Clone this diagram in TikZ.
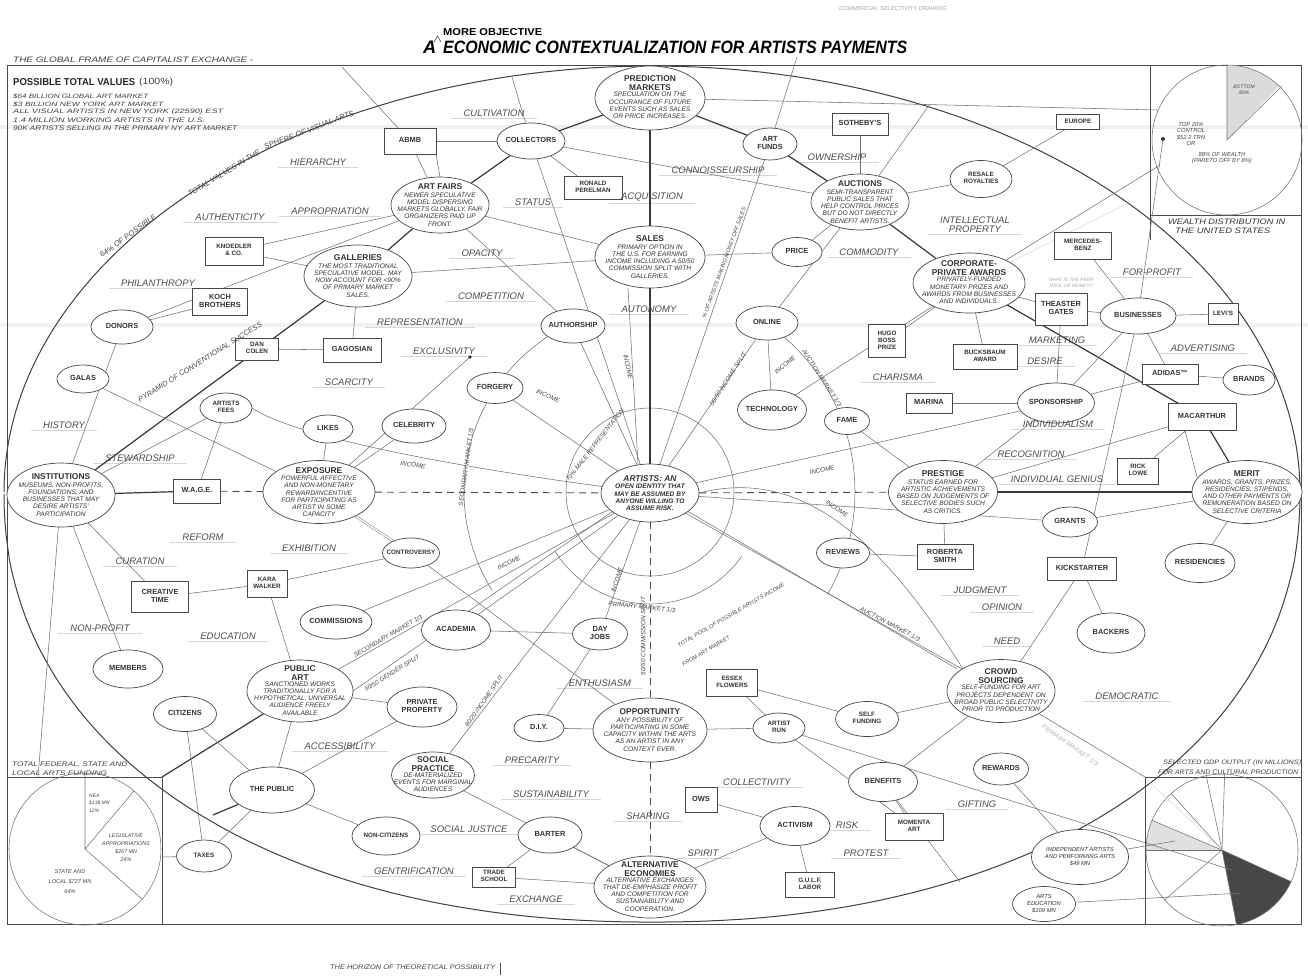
\documentclass[tikz,border=0pt]{standalone}
\usepackage{fontspec}
\setmainfont{Liberation Sans}
\usetikzlibrary{shapes.geometric}
\pgfdeclarelayer{bg}
\pgfsetlayers{bg,main}
\newcommand{\ttlf}{\fontsize{8.4}{9}\selectfont\bfseries}
\newcommand{\dscf}{\fontsize{6.6}{7.2}\selectfont\itshape}
\newcommand{\ndf}{\fontsize{7.4}{8.3}\selectfont\bfseries}
\newcommand{\lbf}{\fontsize{9.5}{10}\selectfont\itshape}
\newcommand{\smf}{\fontsize{6.3}{7}\selectfont\itshape}
\newcommand{\ctrbox}[1]{\makebox[0pt]{\raisebox{\dimexpr(\depth-\height)/2\relax}[0pt][0pt]{#1}}}
\newcommand{\nt}[1]{\ctrbox{\ndf\begin{tabular}{@{}c@{}}#1\end{tabular}}}
\newcommand{\ntsm}[1]{\ctrbox{\fontsize{6.3}{7.1}\selectfont\bfseries\begin{tabular}{@{}c@{}}#1\end{tabular}}}
\newcommand{\et}[2]{\ctrbox{\begin{tabular}{@{}c@{}}{\ttlf\begin{tabular}{@{}c@{}}#1\end{tabular}}\\[-1.5pt]{\dscf\begin{tabular}{@{}c@{}}#2\end{tabular}}\end{tabular}}}
\begin{document}
\begin{tikzpicture}[x=1pt,y=-1pt,line cap=round,line join=round,
 el/.style 2 args={ellipse, draw=black!72, fill=white, line width=0.7pt, minimum width=#1, minimum height=#2, inner sep=0pt, outer sep=0pt, text=black!80},
 bx/.style 2 args={rectangle, draw=black!72, fill=white, line width=0.7pt, minimum width=#1, minimum height=#2, inner sep=0pt, outer sep=0pt, text=black!80},
 lab/.style={font=\lbf, text=black!70, inner sep=0pt},
 sml/.style={font=\smf, text=black!72, inner sep=0pt},
 tiny/.style={font=\fontsize{5.8}{6.6}\selectfont\itshape, text=black!72, inner sep=0pt},
 ln/.style={draw=black!55, line width=0.55pt},
 tk/.style={draw=black!78, line width=1.2pt},
 fn/.style={draw=black!16, line width=0.45pt},
 dsh/.style={draw=black!70, line width=0.9pt, dash pattern=on 7pt off 5pt},
 frm/.style={draw=black!70, line width=0.9pt}]
\useasboundingbox (0,0) rectangle (1308,978);

% ---------------- titles and headers
\node[inner sep=0, anchor=west] (tA) at (423,47) {\resizebox{!}{12.5pt}{\bfseries\itshape A}};
\node[inner sep=0, anchor=west] (tmain) at (443,47) {\resizebox{464pt}{12.5pt}{\bfseries\itshape ECONOMIC CONTEXTUALIZATION FOR ARTISTS PAYMENTS}};
\node[inner sep=0, anchor=west] (tmore) at (443,32) {\resizebox{99pt}{7pt}{\bfseries MORE OBJECTIVE}};
\node[tiny, text=black!35] (topnote) at (893,8) {COMMERCIAL SELECTIVITY DRAWING};
\node[inner sep=0, anchor=west, text=black!75] (gframe) at (13,60) {\resizebox{240pt}{5.5pt}{\itshape THE GLOBAL FRAME OF CAPITALIST EXCHANGE -}};
\node[inner sep=0, anchor=west, text=black!85] (ptv) at (13,82) {\resizebox{122pt}{7pt}{\bfseries POSSIBLE TOTAL VALUES}};
\node[inner sep=0, anchor=west, text=black!75] (ptvb) at (139,82) {\resizebox{34pt}{6.5pt}{(100\%)}};
\node[inner sep=0, anchor=west, text=black!75] (v1) at (13,96) {\resizebox{135pt}{4.6pt}{\itshape \$64 BILLION GLOBAL ART MARKET}};
\node[inner sep=0, anchor=west, text=black!75] (v2) at (13,104) {\resizebox{150pt}{4.6pt}{\itshape \$3 BILLION NEW YORK ART MARKET}};
\node[inner sep=0, anchor=west, text=black!75] (v3) at (13,112) {\resizebox{210pt}{4.6pt}{\itshape ALL VISUAL ARTISTS IN NEW YORK (22590) EST}};
\node[inner sep=0, anchor=west, text=black!75] (v4) at (13,120) {\resizebox{192pt}{4.6pt}{\itshape 1.4 MILLION WORKING ARTISTS IN THE U.S.}};
\node[inner sep=0, anchor=west, text=black!75] (v5) at (13,128) {\resizebox{224pt}{4.6pt}{\itshape 90K ARTISTS SELLING IN THE PRIMARY NY ART MARKET}};
\node[inner sep=0, anchor=west, text=black!75] (hor) at (330,967) {\resizebox{165pt}{4.6pt}{\itshape THE HORIZON OF THEORETICAL POSSIBILITY}};
\node[inner sep=0, anchor=west, text=black!75] (tff1) at (12,765) {\resizebox{115pt}{4.6pt}{\itshape TOTAL FEDERAL, STATE AND}};
\node[inner sep=0, anchor=west, text=black!75] (tff2) at (12,773) {\resizebox{95pt}{4.6pt}{\itshape LOCAL ARTS FUNDING}};
\node[inner sep=0, anchor=west, text=black!75] (gdp1) at (1163,763) {\resizebox{138pt}{4.6pt}{\itshape SELECTED GDP OUTPUT (IN MILLIONS)}};
\node[inner sep=0, anchor=west, text=black!75] (gdp2) at (1158,772) {\resizebox{140pt}{4.6pt}{\itshape FOR ARTS AND CULTURAL PRODUCTION}};
\node[inner sep=0, anchor=west, text=black!80] (wd1) at (1168,222) {\resizebox{117pt}{5.5pt}{\itshape WEALTH DISTRIBUTION IN}};
\node[inner sep=0, anchor=west, text=black!80] (wd2) at (1175,231) {\resizebox{95pt}{5.5pt}{\itshape THE UNITED STATES}};
\node[tiny, text=black!35, align=center, font=\fontsize{4.8}{6}\selectfont\itshape] (peer) at (1071,283) {WHAT IS THE PEER\\POOL OF MONEY?};

% ---------------- ellipse nodes
\node[el={110}{64}] (pred) at (650,98) {\et{PREDICTION\\MARKETS}{SPECULATION ON THE\\OCCURANCE OF FUTURE\\EVENTS SUCH AS SALES\\OR PRICE INCREASES.}};
\node[el={68}{36}] (coll) at (531,141) {\nt{COLLECTORS}};
\node[el={54}{32}] (fund) at (770,144) {\nt{ART\\FUNDS}};
\node[el={62}{37}] (resale) at (981,179) {\ntsm{RESALE\\ROYALTIES}};
\node[el={98}{56}] (auct) at (860,202) {\et{AUCTIONS}{SEMI-TRANSPARENT\\PUBLIC SALES THAT\\HELP CONTROL PRICES\\BUT DO NOT DIRECTLY\\BENEFIT ARTISTS.}};
\node[el={98}{56}] (fairs) at (440,205) {\et{ART FAIRS}{NEWER SPECULATIVE\\MODEL DISPERSING\\MARKETS GLOBALLY. FAIR\\ORGANIZERS PAID UP\\FRONT.}};
\node[el={110}{62}] (sales) at (650,257) {\et{SALES}{PRIMARY OPTION IN\\THE U.S. FOR EARNING\\INCOME INCLUDING A 50/50\\COMMISSION SPLIT WITH\\GALLERIES.}};
\node[el={108}{62}] (gall) at (358,276) {\et{GALLERIES}{THE MOST TRADITIONAL\\SPECULATIVE MODEL. MAY\\NOW ACCOUNT FOR <90\%\\OF PRIMARY MARKET\\SALES.}};
\node[el={50}{29}] (price) at (797,252) {\nt{PRICE}};
\node[el={112}{60}] (corp) at (969,283) {\et{CORPORATE-\\PRIVATE AWARDS}{PRIVATELY-FUNDED\\MONETARY PRIZES AND\\AWARDS FROM BUSINESSES\\AND INDIVIDUALS.}};
\node[el={62}{34}] (donors) at (122,327) {\nt{DONORS}};
\node[el={64}{34}] (auth) at (573,326) {\nt{AUTHORSHIP}};
\node[el={62}{34}] (online) at (767,323) {\nt{ONLINE}};
\node[el={76}{36}] (busi) at (1138,316) {\nt{BUSINESSES}};
\node[el={52}{28}] (galas) at (83,379) {\nt{GALAS}};
\node[el={56}{31}] (forg) at (495,388) {\nt{FORGERY}};
\node[el={52}{30}] (brands) at (1249,380) {\nt{BRANDS}};
\node[el={52}{30}] (fees) at (226,408) {\ntsm{ARTISTS\\FEES}};
\node[el={50}{28}] (likes) at (328,429) {\nt{LIKES}};
\node[el={64}{34}] (celeb) at (414,426) {\nt{CELEBRITY}};
\node[el={69}{40}] (tech) at (772,410) {\nt{TECHNOLOGY}};
\node[el={45}{27}] (fame) at (847,421) {\nt{FAME}};
\node[el={77}{40}] (spons) at (1056,403) {\nt{SPONSORSHIP}};
\node[el={108}{64}] (inst) at (61,495) {\et{INSTITUTIONS}{MUSEUMS, NON-PROFITS,\\FOUNDATIONS, AND\\BUSINESSES THAT MAY\\DESIRE ARTISTS'\\PARTICIPATION}};
\node[el={112}{63}] (expo) at (319,492) {\et{EXPOSURE}{POWERFUL AFFECTIVE\\AND NON-MONETARY\\REWARD/INCENTIVE\\FOR PARTICIPATING AS\\ARTIST IN SOME\\CAPACITY}};
\node[el={98}{58}] (art) at (650,493) {\ctrbox{\begin{tabular}{@{}c@{}}{\ttlf\itshape ARTISTS: AN}\\[-1.5pt]{\fontsize{6.6}{7.3}\selectfont\bfseries\itshape\begin{tabular}{@{}c@{}}OPEN IDENTITY THAT\\MAY BE ASSUMED BY\\ANYONE WILLING TO\\ASSUME RISK.\end{tabular}}\end{tabular}}};
\node[el={109}{63}] (prest) at (943,492) {\et{PRESTIGE}{STATUS EARNED FOR\\ARTISTIC ACHIEVEMENTS\\BASED ON JUDGEMENTS OF\\SELECTIVE BODIES SUCH\\AS CRITICS.}};
\node[el={110}{63}] (merit) at (1247,492) {\et{MERIT}{AWARDS, GRANTS, PRIZES,\\RESIDENCIES, STIPENDS,\\AND OTHER PAYMENTS OR\\REMUNERATION BASED ON\\SELECTIVE CRITERIA}};
\node[el={55}{30}] (grants) at (1070,522) {\nt{GRANTS}};
\node[el={57}{30}] (contr) at (411,553) {\ntsm{CONTROVERSY}};
\node[el={53}{30}] (rev) at (843,553) {\nt{REVIEWS}};
\node[el={70}{39}] (resid) at (1200,563) {\nt{RESIDENCIES}};
\node[el={72}{34}] (comm) at (336,622) {\nt{COMMISSIONS}};
\node[el={69}{40}] (acad) at (456,630) {\nt{ACADEMIA}};
\node[el={55}{32}] (dayj) at (600,634) {\nt{DAY\\JOBS}};
\node[el={68}{40}] (back) at (1111,633) {\nt{BACKERS}};
\node[el={70}{38}] (memb) at (128,669) {\nt{MEMBERS}};
\node[el={106}{62}] (pubart) at (300,691) {\et{PUBLIC\\ART}{SANCTIONED WORKS\\TRADITIONALLY FOR A\\HYPOTHETICAL, UNIVERSAL\\AUDIENCE FREELY\\AVAILABLE}};
\node[el={70}{40}] (priv) at (422,707) {\nt{PRIVATE\\PROPERTY}};
\node[el={108}{63}] (crowd) at (1001,691) {\et{CROWD\\SOURCING}{SELF-FUNDING FOR ART\\PROJECTS DEPENDENT ON\\BROAD PUBLIC SELECTIVITY\\PRIOR TO PRODUCTION}};
\node[el={63}{35}] (cit) at (185,714) {\nt{CITIZENS}};
\node[el={50}{27}] (diy) at (539,728) {\nt{D.I.Y.}};
\node[el={114}{64}] (opp) at (650,730) {\et{OPPORTUNITY}{ANY POSSIBILITY OF\\PARTICIPATING IN SOME\\CAPACITY WITHIN THE ARTS\\AS AN ARTIST IN ANY\\CONTEXT EVER.}};
\node[el={52}{30}] (arun) at (779,728) {\ntsm{ARTIST\\RUN}};
\node[el={63}{35}] (selff) at (867,719) {\ntsm{SELF\\FUNDING}};
\node[el={83}{46}] (social) at (433,775) {\et{SOCIAL\\PRACTICE}{DE-MATERIALIZED\\EVENTS FOR MARGINAL\\AUDIENCES}};
\node[el={85}{46}] (public) at (272,790) {\nt{THE PUBLIC}};
\node[el={69}{39}] (benef) at (883,782) {\nt{BENEFITS}};
\node[el={55}{32}] (rew) at (1001,769) {\nt{REWARDS}};
\node[el={70}{39}] (activ) at (795,826) {\nt{ACTIVISM}};
\node[el={68}{38}] (noncit) at (386,836) {\ntsm{NON-CITIZENS}};
\node[el={64}{36}] (barter) at (550,835) {\nt{BARTER}};
\node[el={55}{32}] (taxes) at (204,856) {\ntsm{TAXES}};
\node[el={112}{62}] (alt) at (650,887) {\et{ALTERNATIVE\\ECONOMIES}{ALTERNATIVE EXCHANGES\\THAT DE-EMPHASIZE PROFIT\\AND COMPETITION FOR\\SUSTAINABILITY AND\\COOPERATION.}};
\node[el={97}{55}] (indep) at (1080,857) {\ctrbox{\fontsize{5.8}{6.8}\selectfont\itshape\begin{tabular}{@{}c@{}}INDEPENDENT ARTISTS\\AND PERFORMING ARTS\\\$49 MN\end{tabular}}};
\node[el={63}{35}] (artsed) at (1044,904) {\ctrbox{\fontsize{5.8}{6.8}\selectfont\itshape\begin{tabular}{@{}c@{}}ARTS\\EDUCATION\\\$109 MN\end{tabular}}};

% ---------------- box nodes
\node[bx={52}{26}] (abmb) at (410,141) {\nt{ABMB}};
\node[bx={56}{22}] (sothe) at (860,124) {\nt{SOTHEBY'S}};
\node[bx={43}{15}] (europe) at (1078,122) {\ntsm{EUROPE}};
\node[bx={58}{23}] (perel) at (593,188) {\ntsm{RONALD\\PERELMAN}};
\node[bx={58}{28}] (knoed) at (234,251) {\ntsm{KNOEDLER\\\& CO.}};
\node[bx={57}{27}] (merc) at (1083,246) {\ntsm{MERCEDES-\\BENZ}};
\node[bx={55}{27}] (koch) at (220,302) {\nt{KOCH\\BROTHERS}};
\node[bx={52}{32}] (theas) at (1061,309) {\nt{THEASTER\\GATES}};
\node[bx={30}{21}] (levis) at (1223,314) {\ntsm{LEVI'S}};
\node[bx={43}{22}] (dan) at (257,349) {\ntsm{DAN\\COLEN}};
\node[bx={58}{24}] (gago) at (352,350) {\nt{GAGOSIAN}};
\node[bx={37}{33}] (hugo) at (887,341) {\ntsm{HUGO\\BOSS\\PRIZE}};
\node[bx={64}{25}] (buck) at (985,357) {\ntsm{BUCKSBAUM\\AWARD}};
\node[bx={56}{20}] (adidas) at (1170,374) {\nt{ADIDAS™}};
\node[bx={46}{20}] (marina) at (929,403) {\nt{MARINA}};
\node[bx={68}{27}] (macar) at (1202,417) {\nt{MACARTHUR}};
\node[bx={47}{24}] (wage) at (197,491) {\nt{W.A.G.E.}};
\node[bx={41}{26}] (rick) at (1138,471) {\ntsm{RICK\\LOWE}};
\node[bx={56}{25}] (roberta) at (945,557) {\nt{ROBERTA\\SMITH}};
\node[bx={69}{23}] (kick) at (1082,569) {\nt{KICKSTARTER}};
\node[bx={57}{31}] (creat) at (160,597) {\nt{CREATIVE\\TIME}};
\node[bx={40}{27}] (kara) at (267,584) {\ntsm{KARA\\WALKER}};
\node[bx={51}{27}] (essex) at (732,683) {\ntsm{ESSEX\\FLOWERS}};
\node[bx={32}{25}] (ows) at (701,800) {\nt{OWS}};
\node[bx={58}{27}] (momenta) at (914,827) {\ntsm{MOMENTA\\ART}};
\node[bx={43}{20}] (trade) at (494,877) {\ntsm{TRADE\\SCHOOL}};
\node[bx={49}{25}] (gulf) at (810,885) {\ntsm{G.U.L.F.\\LABOR}};

% ---------------- free labels
\node[lab] (l1) at (494,113) {CULTIVATION};
\node[lab] (l2) at (318,162) {HIERARCHY};
\node[lab] (l3) at (533,202) {STATUS};
\node[lab] (l4) at (652,197) {ACQUISITION};
\node[lab] (l5) at (718,170) {CONNOISSEURSHIP};
\node[lab] (l6) at (837,157) {OWNERSHIP};
\node[lab] (l7) at (230,217) {AUTHENTICITY};
\node[lab] (l8) at (330,211) {APPROPRIATION};
\node[lab] (l9) at (482,253) {OPACITY};
\node[lab] (l10) at (869,252) {COMMODITY};
\node[lab, align=center, font=\fontsize{9.5}{9}\selectfont\itshape] (l11) at (975,225) {INTELLECTUAL\\PROPERTY};
\node[lab] (l12) at (1152,272) {FOR-PROFIT};
\node[lab] (l13) at (158,283) {PHILANTHROPY};
\node[lab] (l14) at (491,296) {COMPETITION};
\node[lab] (l15) at (649,309) {AUTONOMY};
\node[lab] (l16) at (420,322) {REPRESENTATION};
\node[lab] (l17) at (1057,340) {MARKETING};
\node[lab] (l18) at (1203,348) {ADVERTISING};
\node[lab] (l19) at (444,351) {EXCLUSIVITY};
\node[lab] (l20) at (349,382) {SCARCITY};
\node[lab] (l21) at (898,377) {CHARISMA};
\node[lab] (l22) at (1045,361) {DESIRE};
\node[lab] (l23) at (64,425) {HISTORY};
\node[lab] (l24) at (1058,424) {INDIVIDUALISM};
\node[lab] (l25) at (140,458) {STEWARDSHIP};
\node[lab] (l26) at (1031,454) {RECOGNITION};
\node[lab] (l27) at (1057,479) {INDIVIDUAL GENIUS};
\node[lab] (l28) at (203,537) {REFORM};
\node[lab] (l29) at (309,548) {EXHIBITION};
\node[lab] (l30) at (140,561) {CURATION};
\node[lab] (l31) at (980,590) {JUDGMENT};
\node[lab] (l32) at (1002,607) {OPINION};
\node[lab] (l33) at (100,628) {NON-PROFIT};
\node[lab] (l34) at (228,636) {EDUCATION};
\node[lab] (l35) at (1007,641) {NEED};
\node[lab] (l36) at (600,683) {ENTHUSIASM};
\node[lab] (l37) at (1127,696) {DEMOCRATIC};
\node[lab] (l38) at (340,746) {ACCESSIBILITY};
\node[lab] (l39) at (532,760) {PRECARITY};
\node[lab] (l40) at (757,782) {COLLECTIVITY};
\node[lab] (l41) at (551,794) {SUSTAINABILITY};
\node[lab] (l42) at (977,804) {GIFTING};
\node[lab] (l43) at (648,816) {SHARING};
\node[lab] (l44) at (847,825) {RISK};
\node[lab] (l45) at (469,829) {SOCIAL JUSTICE};
\node[lab] (l46) at (703,853) {SPIRIT};
\node[lab] (l47) at (866,853) {PROTEST};
\node[lab] (l48) at (414,871) {GENTRIFICATION};
\node[lab] (l49) at (536,899) {EXCHANGE};

% ---------------- rotated small labels
\node[sml, rotate=32, font=\fontsize{7.4}{8}\selectfont\itshape] (pyr) at (200,362) {PYRAMID OF CONVENTIONAL SUCCESS};
\node[sml, rotate=36, font=\fontsize{7.6}{8}\selectfont\itshape] (sp1) at (128,236) {64\% OF POSSIBLE};
\node[sml, rotate=31, font=\fontsize{7.6}{8}\selectfont\itshape] (sp2) at (224,173) {TOTAL VALUES IN THE};
\node[sml, rotate=21, font=\fontsize{7.6}{8}\selectfont\itshape] (sp3) at (309,130) {SPHERE OF VISUAL ARTS};
\node[sml, rotate=-9] (i1) at (413,465) {INCOME};
\node[sml, rotate=-22] (i2) at (548,396) {INCOME};
\node[sml, rotate=-78] (i3) at (628,367) {INCOME};
\node[sml, rotate=82] (sm1) at (466,467) {SECONDARY MARKET 1/3};
\node[sml, rotate=52] (male) at (595,445) {70\% MALE REPRESENTATION};
\node[sml, rotate=27] (i4) at (509,563) {INCOME};
\node[sml, rotate=72] (i5) at (617,580) {INCOME};
\node[sml, rotate=-6] (pm) at (642,607) {PRIMARY MARKET 1/3};
\node[sml, rotate=30] (sm2) at (388,636) {SECONDARY MARKET 1/3};
\node[sml, rotate=32] (gs) at (392,673) {50/50 GENDER SPLIT};
\node[sml, rotate=55] (is8) at (484,701) {80/20 INCOME SPLIT};
\node[sml, rotate=90] (cs) at (643,636) {50/50 COMMISSION SPLIT};
\node[sml, rotate=57] (is5) at (728,379) {50/50 INCOME SPLIT};
\node[sml, rotate=40] (i6) at (785,365) {INCOME};
\node[sml, rotate=-57] (am1) at (822,378) {AUCTION MARKET 1/3};
\node[sml, rotate=11] (i7) at (822,470) {INCOME};
\node[sml, rotate=-33] (i8) at (837,509) {INCOME};
\node[sml, rotate=-28] (am2) at (890,624) {AUCTION MARKET 1/3};
\node[sml, rotate=-35, text=black!30] (pm2) at (1070,745) {PRIMARY MARKET 1/3};
\node[sml, rotate=30, font=\fontsize{5.6}{6.4}\selectfont\itshape] (pool1) at (731,615) {TOTAL POOL OF POSSIBLE ARTISTS INCOME};
\node[sml, rotate=30, font=\fontsize{5.6}{6.4}\selectfont\itshape] (pool2) at (706,651) {FROM ART MARKET};
\node[sml, rotate=70, font=\fontsize{5.6}{6.4}\selectfont\itshape] (pct) at (724,263) {\% OF ARTISTS MAKING MONEY OFF SALES};

% ---------------- pie chart texts
\node[tiny, align=center] (top20) at (1191,134) {TOP 20\%\\CONTROL\\\$52.2 TRN\\OR};
\node[tiny, align=center] (top20b) at (1222,158) {88\% OF WEALTH\\(PARETO OFF BY 8\%)};
\node[tiny, align=center, font=\fontsize{5}{5.6}\selectfont\itshape] (bot80) at (1244,90) {BOTTOM\\80\%};
\node[tiny, align=left, anchor=west, font=\fontsize{5}{7.6}\selectfont\itshape] (nea) at (89,803) {NEA\\\$138 MN\\12\%};
\node[tiny, align=center, font=\fontsize{5.4}{8}\selectfont\itshape] (legis) at (126,848) {LEGISLATIVE\\APPROPRIATIONS\\\$267 MN\\24\%};
\node[tiny, align=center, font=\fontsize{5.6}{10}\selectfont\itshape] (stl) at (70,882) {STATE AND\\LOCAL \$727 MN\\64\%};

% =============== background layer: frame, ellipse, connectors
\begin{pgfonlayer}{bg}
\fill[white] (0,0) rectangle (1308,978);
\fill[black!6] (0,125) rectangle (1308,129);
\fill[black!5] (0,323) rectangle (1308,327);
% pencil guide lines under the free labels
\foreach \n in {l1,l2,l3,l4,l5,l6,l7,l8,l9,l10,l11,l12,l13,l14,l15,l16,l17,l18,l19,l20,l21,l22,l23,l24,l25,l26,l27,l28,l29,l30,l31,l32,l33,l34,l35,l36,l37,l38,l39,l40,l41,l42,l43,l44,l45,l46,l47,l48,l49}
  \draw[fn] ([xshift=-12pt,yshift=-1.5pt]\n.south west) -- ([xshift=12pt,yshift=-1.5pt]\n.south east);
% frame
\draw[frm] (7,65) -- (1301,65) -- (1301,924) -- (7,924) -- cycle;
\draw[frm] (7,777) -- (162,777) -- (162,924);
\draw[frm] (1301,777) -- (1145,777) -- (1145,924);
\draw[frm] (1150,65) -- (1150,240);
\draw[frm] (1150,215) -- (1301,215);
\draw[black!70, line width=0.6pt] (434,42) -- (437.5,36) -- (441,42);
\draw[black!70, line width=0.6pt] (500,963) -- (500,975);
% big ellipse
\draw[draw=black!75, line width=1pt] plot[domain=180:360, samples=120] ({652+648*cos(\x)},{492+426*sin(\x)});
\draw[draw=black!75, line width=1pt] plot[domain=0.2:179.8, samples=120] ({652+648*sign(cos(\x))*abs(cos(\x))^(0.93)},{492+430*abs(sin(\x))^(0.93)});
% circles about artists
\draw[ln] (650,492) circle[radius=84pt];
\draw[ln] plot[domain=35:148, samples=40] ({650+112*cos(\x)},{492+112*sin(\x)});
\draw[ln] plot[domain=148:238, samples=50] ({650+186*cos(\x)},{492+186*sin(\x)});
\draw[ln] plot[domain=-50:30, samples=40] ({650+205*cos(\x)},{492+205*sin(\x)});
% wealth pie
\fill[black!14] (1227,140) -- plot[domain=270:314, samples=20] ({1227+75*cos(\x)},{140+75*sin(\x)}) -- cycle;
\draw[ln] (1227,140) circle[radius=75pt];
\draw[ln] (1227,65) -- (1227,140) -- (1282,86);
\fill[black!80] (1163,139) circle[radius=2pt];
% arts funding pie
\draw[ln] (85,849) circle[radius=76pt];
\draw[ln] (85,773) -- (85,849) -- (134,791);
\draw[ln] (85,849) -- (142,899);
% gdp pie
\fill[black!12] (1222,850) -- plot[domain=180:203, samples=10] ({1222+76*cos(\x)},{850+76*sin(\x)}) -- cycle;
\fill[black!72] (1222,850) -- plot[domain=24.6:79, samples=20] ({1222+76*cos(\x)},{850+76*sin(\x)}) -- cycle;
\draw[ln] (1222,850) circle[radius=76pt];
\foreach \a in {228,258,272,203,180,139,24.6,79} \draw[ln] (1222,850) -- ++({76*cos(\a)},{76*sin(\a)});
\draw[fn] (1147,780) -- (1222,850);

% coordinates for free ends
\coordinate (cABMBtop) at (342,67);
\coordinate (cColltop) at (512,77);
\coordinate (cFundtop) at (797,57);
\coordinate (cBoxBL) at (162,777);
\coordinate (cEllBL) at (213,815);
\coordinate (cInstDown) at (38,777);
\coordinate (cTaxBox) at (162,857);
\coordinate (cDark1) at (1232,870);
\coordinate (cDark2) at (1242,893);
\coordinate (cLight) at (1175,841);
\coordinate (cBenBot) at (960,882);
\coordinate (cBoxBR) at (1145,777);
\coordinate (cWealth1) at (1160,165);
\coordinate (cWealth2) at (1158,110);
\coordinate (cDot) at (1163,139);
\coordinate (cAuctTop) at (930,104);
\coordinate (cExcl) at (470,357);
\coordinate (cMerit2) at (1197,477);
\coordinate (cCorpUp) at (1128,203);

% thick lines
\draw[tk] (pred) -- (coll);
\draw[tk] (coll) -- (fairs);
\draw[tk] (fairs) -- (gall);
\draw[tk] (gall) -- (inst);
\draw[tk] (pred) -- (fund);
\draw[tk] (fund) -- (auct);
\draw[tk] (auct) -- (corp);
\draw[tk] (corp) -- (macar);
\draw[tk] (macar) -- (merit);
\draw[tk] (prest) -- (merit);
\draw[tk] (pred) -- (sales);
\draw[tk] (sales) -- (art);
\draw[tk] (pubart) -- (cBoxBL);
\draw[tk] (public) -- (cEllBL);
\draw[tk] (inst) -- (wage);
% dashed axes
\draw[dsh] (wage) -- (expo);
\draw[dsh] (expo) -- (art);
\draw[dsh] (art) -- (prest);
\draw[dsh] (art) -- (opp);
\draw[dsh] (opp) -- (alt);

% medium connectors
\draw[ln] (abmb) -- (fairs);
\draw[ln] (abmb.south east) -- (fairs.north);
\draw[ln] (abmb) -- (coll);
\draw[ln] (abmb) -- (cABMBtop);
\draw[ln] (coll) -- (perel);
\draw[ln] (coll) -- (auct);
\draw[ln] (cColltop) -- (coll);
\draw[ln] (coll) -- (art);
\draw[ln] (fairs) -- (sales);
\draw[ln] (fairs) -- (auth);
\draw[ln] (gall) -- (sales);
\draw[ln] (knoed) -- (gall);
\draw[ln] (knoed) -- (fairs);
\draw[ln] (koch) -- (donors);
\draw[ln] (donors) -- (fairs);
\draw[ln] (donors) -- (inst);
\draw[ln] (galas) -- (expo);
\draw[ln] (dan) -- (gago);
\draw[ln] (gago) -- (gall);
\draw[ln] (fees) -- (wage);
\draw[ln] (fees) -- (inst);
\draw[ln] (fees.east) .. controls (300,440) and (480,470) .. (art);
\draw[ln] (likes) -- (expo);
\draw[ln] (celeb) -- (expo);
\draw[ln] (cExcl) -- (expo);
\fill[black!80] (cExcl) circle[radius=1.8pt];
\draw[ln, double distance=1.5pt, line width=0.45pt] (expo) -- (contr);
\draw[ln] (inst) -- (creat);
\draw[ln] (inst) -- (cInstDown);
\draw[ln] (inst) -- (memb);
\draw[ln] (creat) -- (kara);
\draw[ln] (kara) -- (contr);
\draw[ln] (kara) -- (pubart);
\draw[ln] (comm) -- (art);
\draw[ln] (acad) -- (art);
\draw[ln] (acad) -- (dayj);
\draw[ln] (dayj) -- (diy);
\draw[ln] (dayj) -- (art);
\draw[ln] (contr) -- (opp);
\draw[ln] (pubart) -- (priv);
\draw[ln] (pubart) -- (public);
\draw[ln] (art) -- (pubart);
\draw[ln] ([yshift=4pt]art.south west) -- (pubart.east);
\draw[ln] (social) -- (art);
\draw[ln] (barter) -- (trade);
\draw[ln] (barter) -- (alt);
\draw[ln] (trade) -- (alt);
\draw[ln] (social) -- (alt);
\draw[ln] (public) -- (noncit);
\draw[ln] (public) -- (taxes);
\draw[ln] (taxes) -- (cTaxBox);
\draw[ln] (cit) -- (taxes);
\draw[ln] (cit) -- (public);
\draw[ln] (public) -- (priv);
\draw[ln] (opp) -- (diy);
\draw[ln] (opp) -- (arun);
\draw[ln] (arun) -- (essex);
\draw[ln] (essex) -- (selff);
\draw[ln] (selff) -- (crowd);
\draw[ln] (arun) -- (momenta);
\draw[ln] (arun) -- (cDark1);
\draw[ln] (benef) -- (crowd);
\draw[ln] (benef) -- (momenta);
\draw[ln] (benef) -- (cBenBot);
\draw[ln] (ows) -- (activ);
\draw[ln] (activ) -- (alt);
\draw[ln] (activ) -- (gulf);
\draw[ln] (crowd) -- (cBoxBR);
\draw[ln] (rew) -- (indep);
\draw[ln] (indep) -- (cLight);
\draw[ln] (artsed) -- (cDark2);
\draw[ln] (kick) -- (back);
\draw[ln] (kick) -- (crowd);
\draw[ln] (kick) -- (busi);
\draw[ln] (macar) -- (rick);
\draw[ln] ([xshift=-17pt]macar.south) -- (cMerit2);
\draw[ln] (macar) -- (prest);
\draw[ln] (merit) -- (grants);
\draw[ln] (grants) -- (art);
\draw[ln] (merit) -- (resid);
\draw[ln] (spons) -- (adidas);
\draw[ln] (spons) -- (busi);
\draw[ln] (spons) -- (prest);
\draw[ln] (theas) -- (spons);
\draw[ln] (adidas) -- (brands);
\draw[ln] (adidas) -- (busi);
\draw[ln] (busi) -- (levis);
\draw[ln] (busi) -- (merc);
\draw[ln] (busi) -- (theas);
\draw[ln] (corp) -- (theas);
\draw[ln] (corp) -- (cWealth1);
\draw[fn] (corp) -- (cCorpUp);
\draw[ln] (busi) -- (cDot);
\draw[ln] (pred) -- (cWealth2);
\draw[ln] (resale) -- (europe);
\draw[ln] (resale) -- (auct);
\draw[ln] (sothe) -- (auct);
\draw[ln] (auct) -- (cAuctTop);
\draw[ln] (auct) -- (price);
\draw[ln] (price) -- (sales);
\draw[ln] (auct) -- (online);
\draw[ln] (corp) -- (tech);
\draw[ln] (hugo) -- (corp);
\draw[ln] (buck) -- (corp);
\draw[ln] (marina) -- (spons);
\draw[ln] (fame) -- (prest);
\draw[ln] (rev) -- (roberta);
\draw[ln] (prest) -- (roberta);
\draw[ln] (online) -- (tech);
\draw[ln] (online) -- (art);
\draw[ln] (auth) -- (art);
\draw[ln] (forg) -- (art);
\draw[ln] ([xshift=-22pt]sales.south) -- ([xshift=-12pt]art.north);
\draw[ln] (cFundtop) -- (fund);
\draw[ln] (fund) -- (art);
\draw[ln] (art) -- (spons);
\draw[ln] (art.east) .. controls (790,470) and (870,520) .. (crowd.north west);
\draw[ln] (art) -- (crowd);
\draw[ln] ([yshift=4pt]art.south east) -- ([xshift=-6pt]crowd.north west);
\end{pgfonlayer}
\end{tikzpicture}
\end{document}
